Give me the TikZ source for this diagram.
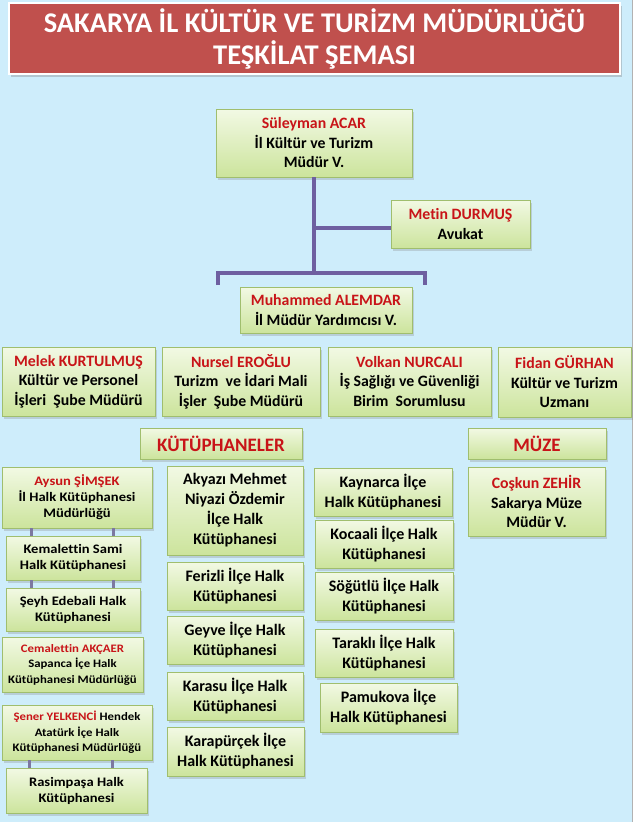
\documentclass[tikz,border=0pt]{standalone}
\usepackage{fontspec}
\setmainfont{Carlito}[Ligatures=NoCommon]
\newfontfamily\widefont[FakeStretch=1.12,Ligatures=NoCommon]{Carlito}
\usetikzlibrary{shadows,calc}
\definecolor{bg}{RGB}{206,237,251}
\definecolor{boxtop}{RGB}{242,249,228}
\definecolor{boxbot}{RGB}{204,228,156}
\definecolor{boxborder}{RGB}{160,190,110}
\definecolor{titlered}{RGB}{192,80,77}
\definecolor{nm}{RGB}{200,20,24}
\definecolor{mainline}{RGB}{110,95,160}
\definecolor{subline}{RGB}{125,120,160}
\newcommand\setfs[2]{\fontsize{#1}{#2}\selectfont}
\tikzset{
  wh/.style 2 args={minimum width=#1pt, minimum height=#2pt},
  box/.style={draw=boxborder, line width=0.6pt, top color=boxtop, bottom color=boxbot,
    align=center, inner sep=1pt, text=black,
    font=\bfseries\setfs{15.8}{19.5},
    drop shadow={opacity=0.28, shadow xshift=2pt, shadow yshift=-2.5pt}},
  leftbox/.style={box, font=\widefont\bfseries\setfs{13}{16}},
  smallbox/.style={box, font=\widefont\bfseries\setfs{11.4}{15.5}},
  midbox/.style={box, font=\bfseries\setfs{16}{20}},
  headbox/.style={box, font=\bfseries\setfs{19}{22}, text=nm},
  titlebox/.style={fill=titlered, draw=white, line width=2.5pt, align=center,
    text=white, font=\bfseries\setfs{28.5}{32},
    drop shadow={opacity=0.35, shadow xshift=2pt, shadow yshift=-3pt}},
  mainconn/.style={draw=mainline, line width=4pt, line join=miter},
  subconn/.style={draw=subline, line width=3pt}
}
\begin{document}
\begin{tikzpicture}[x=1pt,y=-1pt]
\fill[bg] (0,0) rectangle (633,822);
\useasboundingbox (0,0) rectangle (633,822);
\draw[gray!60, line width=1pt] (632,0) -- (632,822);

% title
\node[titlebox, wh={611}{71}] (title) at (314.5,38.5)
  {SAKARYA İL KÜLTÜR VE TURİZM MÜDÜRLÜĞÜ\\TEŞKİLAT ŞEMASI};

% connectors (top)
\coordinate (bl) at (218,273);
\coordinate (br) at (425,273);
\coordinate (blb) at (218,285);
\coordinate (brb) at (425,285);

\node[box, wh={196}{68}] (sul) at (314,143)
  {\textcolor{nm}{Süleyman ACAR}\\İl Kültür ve Turizm\\Müdür V.};
\node[box, wh={139}{48}] (metin) at (460.5,224)
  {\textcolor{nm}{Metin DURMUŞ}\\Avukat};

\draw[mainconn] (sul.south) -- (sul.south |- bl);
\draw[mainconn] (sul.south |- metin.west) ++(0,4) coordinate (mj) -- (mj -| metin.west);
\draw[mainconn] (blb) -- (bl) -- (br) -- (brb);

\node[box, wh={172}{46}] (muh) at (326,310)
  {\textcolor{nm}{Muhammed ALEMDAR}\\İl Müdür Yardımcısı V.};

% second row
\node[box, wh={153}{69}] (melek) at (78.5,381.5)
  {\textcolor{nm}{Melek KURTULMUŞ}\\Kültür ve Personel\\İşleri\ \ Şube Müdürü};
\node[box, wh={158}{69}] (nursel) at (241,381.5)
  {\textcolor{nm}{Nursel EROĞLU}\\Turizm\ \ ve İdari Mali\\İşler\ \ Şube Müdürü};
\node[box, wh={163}{69}] (volkan) at (409.5,381.5)
  {\textcolor{nm}{Volkan NURCALI}\\İş Sağlığı ve Güvenliği\\Birim\ \ Sorumlusu};
\node[box, wh={133}{70}] (fidan) at (564.5,382)
  {\textcolor{nm}{Fidan GÜRHAN}\\Kültür ve Turizm\\Uzmanı};

% headings
\node[headbox, wh={162}{31}] (kutup) at (221,443.5) {KÜTÜPHANELER};
\node[headbox, wh={138}{31}] (muze) at (537,443.5) {MÜZE};

% left column
\node[leftbox, wh={150}{61}] (aysun) at (77,497.5)
  {\textcolor{nm}{Aysun ŞİMŞEK}\\İl Halk Kütüphanesi\\Müdürlüğü};
\node[leftbox, wh={134}{44}] (kemal) at (73,558)
  {Kemalettin Sami\\Halk Kütüphanesi};
\node[leftbox, wh={134}{43}] (seyh) at (73,609.5)
  {Şeyh Edebali Halk\\Kütüphanesi};
\node[smallbox, wh={141}{55}] (cemal) at (72.5,664.5)
  {\textcolor{nm}{Cemalettin AKÇAER}\\Sapanca İçe Halk\\Kütüphanesi Müdürlüğü};
\node[smallbox, wh={150}{55}] (sener) at (77,732.5)
  {\textcolor{nm}{Şener YELKENCİ} Hendek\\Atatürk İçe Halk\\Kütüphanesi Müdürlüğü};
\node[leftbox, wh={141}{45}] (rasim) at (76.5,790.5)
  {Rasimpaşa Halk\\Kütüphanesi};

\draw[subconn] ([xshift=26pt]kemal.north west) -- ([xshift=26pt]kemal.north west |- aysun.south);
\draw[subconn] ([xshift=-27pt]kemal.north east) -- ([xshift=-27pt]kemal.north east |- aysun.south);
\draw[subconn] ([xshift=26pt]seyh.north west) -- ([xshift=26pt]seyh.north west |- kemal.south);
\draw[subconn] ([xshift=-27pt]seyh.north east) -- ([xshift=-27pt]seyh.north east |- kemal.south);
\draw[subconn] ([xshift=24pt]rasim.north west) -- ([xshift=24pt]rasim.north west |- sener.south);
\draw[subconn] ([xshift=-35pt]rasim.north east) -- ([xshift=-35pt]rasim.north east |- sener.south);

% middle column 1
\node[midbox, wh={136}{89}] (akyazi) at (235,510.5)
  {Akyazı Mehmet\\Niyazi Özdemir\\İlçe Halk\\Kütüphanesi};
\node[midbox, wh={136}{48}] (ferizli) at (235,586)
  {Ferizli İlçe Halk\\Kütüphanesi};
\node[midbox, wh={136}{48}] (geyve) at (235,640)
  {Geyve İlçe Halk\\Kütüphanesi};
\node[midbox, wh={136}{48}] (karasu) at (235,696)
  {Karasu İlçe Halk\\Kütüphanesi};
\node[midbox, wh={137}{49}] (karapurcek) at (235.5,751.5)
  {Karapürçek İlçe\\Halk Kütüphanesi};

% middle column 2
\node[midbox, wh={138}{48}] (kaynarca) at (383,492)
  {Kaynarca İlçe\\Halk Kütüphanesi};
\node[midbox, wh={138}{48}] (kocaali) at (384,544)
  {Kocaali İlçe Halk\\Kütüphanesi};
\node[midbox, wh={138}{48}] (sogutlu) at (384,596)
  {Söğütlü İlçe Halk\\Kütüphanesi};
\node[midbox, wh={138}{48}] (tarakli) at (384,653)
  {Taraklı İlçe Halk\\Kütüphanesi};
\node[midbox, wh={137}{49}] (pamukova) at (388.5,707.5)
  {Pamukova İlçe\\Halk Kütüphanesi};

% museum
\node[box, wh={137}{69}] (coskun) at (536.5,501.5)
  {\textcolor{nm}{Coşkun ZEHİR}\\Sakarya Müze\\Müdür V.};
\end{tikzpicture}
\end{document}
